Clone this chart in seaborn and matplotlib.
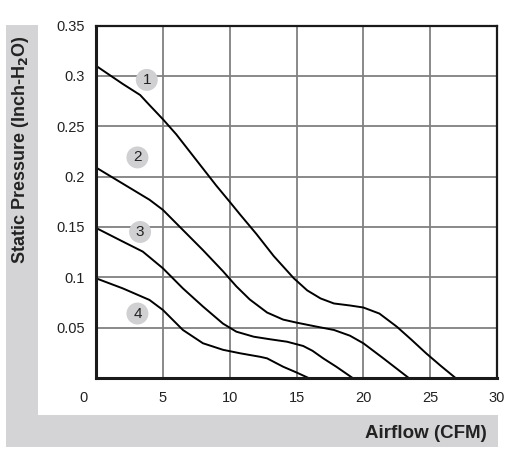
import numpy as np
import pandas as pd
import matplotlib
matplotlib.use('Agg')
import matplotlib.pyplot as plt
import matplotlib.transforms as mtransforms
from matplotlib.patches import Rectangle
import seaborn as sns

# Кривые (расход CFM, давление inch-H2O)
curve1_x = [0, 2.0, 3.3, 4.0, 5.0, 6.0, 7.0, 8.0, 9.0, 10.0, 10.8, 12.0, 13.3, 14.8, 15.8, 16.8, 17.8, 19.0, 20.0, 21.2, 22.5, 23.6, 24.7, 25.8, 26.9]
curve1_y = [0.31, 0.292, 0.281, 0.271, 0.257, 0.242, 0.225, 0.208, 0.191, 0.175, 0.162, 0.143, 0.121, 0.099, 0.087, 0.079, 0.074, 0.072, 0.070, 0.064, 0.051, 0.038, 0.0245, 0.012, 0.0]
curve2_x = [0, 2.0, 4.0, 5.0, 6.5, 8.0, 9.5, 10.5, 11.5, 12.8, 14.0, 15.0, 16.5, 17.8, 19.0, 20.0, 21.5, 23.4]
curve2_y = [0.209, 0.193, 0.177, 0.167, 0.147, 0.127, 0.106, 0.091, 0.078, 0.065, 0.058, 0.055, 0.051, 0.0477, 0.042, 0.0345, 0.0195, 0.0]
curve3_x = [0, 2.0, 3.5, 5.0, 6.5, 8.0, 9.5, 10.5, 11.8, 13.0, 14.3, 15.5, 16.2, 17.0, 18.0, 19.2]
curve3_y = [0.149, 0.1355, 0.1255, 0.109, 0.089, 0.071, 0.054, 0.046, 0.041, 0.0385, 0.036, 0.0318, 0.027, 0.0195, 0.011, 0.0]
curve4_x = [0, 2.0, 4.0, 5.0, 6.5, 8.0, 9.5, 10.8, 12.3, 12.8, 14.0, 15.0, 15.9]
curve4_y = [0.099, 0.089, 0.0775, 0.0676, 0.0477, 0.0345, 0.028, 0.0245, 0.021, 0.0195, 0.0112, 0.0055, 0.0]

curve_names = ['1', '2', '3', '4']
label_x = [3.8, 3.1, 3.3, 3.1]
label_y = [0.296, 0.219, 0.145, 0.064]

x_ticks = [0, 5, 10, 15, 20, 25, 30]
y_ticks = [0.05, 0.1, 0.15, 0.2, 0.25, 0.3, 0.35]
y_tick_labels = ['0.05', '0.1', '0.15', '0.2', '0.25', '0.3', '0.35']

frames = []
for name, xs, ys in zip(curve_names,
                        [curve1_x, curve2_x, curve3_x, curve4_x],
                        [curve1_y, curve2_y, curve3_y, curve4_y]):
    frames.append(pd.DataFrame({'airflow': xs, 'pressure': ys, 'curve': name}))
data = pd.concat(frames, ignore_index=True)

sns.set_style('white')
plt.rcParams['font.family'] = ['Liberation Sans', 'DejaVu Sans']

fig = plt.figure(figsize=(5.08, 4.63), dpi=100)

# Серая L-образная подложка
band = '#d4d4d6'
fig.patches.append(Rectangle((6 / 508, 1 - 447 / 463), 32 / 508, 422 / 463,
                             transform=fig.transFigure, facecolor=band, edgecolor='none', zorder=0))
fig.patches.append(Rectangle((6 / 508, 1 - 447 / 463), 492 / 508, 32 / 463,
                             transform=fig.transFigure, facecolor=band, edgecolor='none', zorder=0))

ax = fig.add_axes([96 / 508, 1 - 378 / 463, 401 / 508, 352.5 / 463])
ax.set_facecolor('white')

sns.lineplot(data=data, x='airflow', y='pressure', hue='curve',
             palette={n: 'black' for n in curve_names}, estimator=None, sort=False,
             legend=False, linewidth=1.4, ax=ax, zorder=3)
for line in ax.get_lines():
    line.set_solid_joinstyle('round')

for name, lx, ly in zip(curve_names, label_x, label_y):
    ax.scatter([lx], [ly], s=250, color='#d0d0d2', edgecolor='none', zorder=4)
    ax.text(lx, ly, name, ha='center', va='center', fontsize=11, color='#222222', zorder=5)

ax.set_xlim(0, 30)
ax.set_ylim(0, 0.35)
ax.set_xticks(x_ticks)
ax.set_yticks(y_ticks)
ax.set_yticklabels(y_tick_labels)
ax.grid(True, color='#808080', linewidth=1.3)
ax.set_axisbelow(True)
ax.tick_params(axis='both', length=0, labelsize=10.5, colors='#222222')
ax.tick_params(axis='x', pad=9)
ax.tick_params(axis='y', pad=8)
ax.set_xlabel('')
ax.set_ylabel('')

for side in ['left', 'bottom']:
    ax.spines[side].set_linewidth(2.2)
for side in ['top', 'right']:
    ax.spines[side].set_linewidth(1.6)
for sp in ax.spines.values():
    sp.set_color('#1a1a1a')
    sp.set_zorder(6)

# подпись "0" сдвинута влево
zero_label = ax.get_xticklabels()[0]
zero_label.set_transform(zero_label.get_transform() +
                         mtransforms.ScaledTranslation(-12 / 100, 0, fig.dpi_scale_trans))

fig.text(21 / 508, 1 - 150 / 463, 'Static Pressure (Inch-H$_\\mathbf{2}$O)', rotation=90,
         ha='center', va='center', fontsize=13, fontweight='bold', color='#222222')
fig.text(487 / 508, 1 - 433 / 463, 'Airflow (CFM)', ha='right', va='center',
         fontsize=13.5, fontweight='bold', color='#222222')

fig.savefig('out.png', dpi=100)
plt.close()
